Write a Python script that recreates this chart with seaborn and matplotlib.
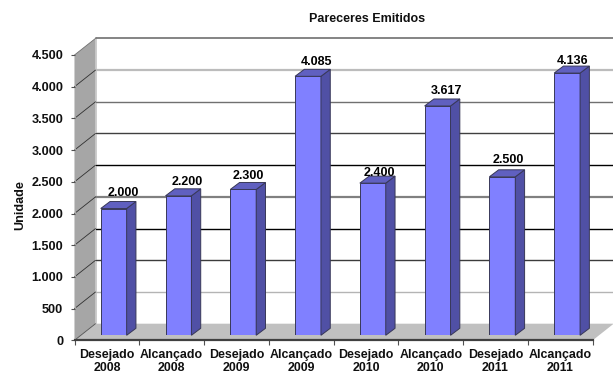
import pandas as pd
import matplotlib
matplotlib.use("Agg")
import matplotlib.pyplot as plt
from matplotlib.patches import Polygon
from matplotlib.lines import Line2D
from matplotlib.transforms import IdentityTransform
import seaborn as sns

# data
categories = ["Desejado\n2008", "Alcançado\n2008", "Desejado\n2009", "Alcançado\n2009",
              "Desejado\n2010", "Alcançado\n2010", "Desejado\n2011", "Alcançado\n2011"]
values = [2000, 2200, 2300, 4085, 2400, 3617, 2500, 4136]
y_ticks = [0, 500, 1000, 1500, 2000, 2500, 3000, 3500, 4000, 4500]
y_labels = ["0", "500", "1.000", "1.500", "2.000", "2.500", "3.000", "3.500", "4.000", "4.500"]

# gridlines look different from each other in the original (bad downscale)
grid_styles = {500: ("#b4b4b4", 1.0), 1000: ("#3c3c3c", 1.0), 1500: ("#000000", 1.0),
               2000: ("#808080", 1.6), 2500: ("#000000", 1.0), 3000: ("#404040", 1.0),
               3500: ("#707070", 1.0), 4000: ("#bcbcbc", 1.6)}

# labels were moved by hand in the original, offsets in pixels
label_dx = [5, 4, 0, 4, 2, 4, 1, 1]
label_dy = [3, 1, 0, 1, -3, 2, 4, -1]

sns.set_theme(style="white")
plt.rcParams["font.family"] = ["Liberation Sans", "DejaVu Sans"]
plt.rcParams["font.weight"] = "bold"

W, H = 613, 374
fig = plt.figure(figsize=(W / 100, H / 100), dpi=100)


def place(left, bottom_y, width, height):
    return [left / W, (H - bottom_y) / H, width / W, height / H]


# front plane of the fake 3D box, carries the ticks
ax = fig.add_axes(place(74.5, 340.3, 518.2, 285.3))
ax.set_xlim(-0.5, 7.5)
ax.set_ylim(0, 4500)
ax.patch.set_visible(False)

# bars stand a bit inside the box
bar_ax = fig.add_axes(place(81.3, 335.3, 518.2, 285.3))
df = pd.DataFrame({"categoria": categories, "valor": values})
sns.barplot(data=df, x="categoria", y="valor", ax=bar_ax, color="#8080FF", saturation=1,
            width=0.4, edgecolor="#383858", linewidth=0.7, order=categories)
bar_ax.set_xlim(-0.5, 7.5)
bar_ax.set_ylim(0, 4500)
bar_ax.patch.set_visible(False)
bar_ax.axis("off")

DX, DY = 21, 16.6  # box depth, pixels
BX, BY = 9.3, 7    # bar depth, pixels
pix = IdentityTransform()


def to_pix(a, x, y):
    return a.transData.transform((x, y))


# walls and floor
x0, y0 = to_pix(ax, -0.5, 0)
x1, y1 = to_pix(ax, 7.5, 0)
_, ytop = to_pix(ax, -0.5, 4500)
fig.add_artist(Polygon([(x0, y0), (x0 + DX, y0 + DY), (x0 + DX, ytop + DY), (x0, ytop)],
                       closed=True, facecolor="#a6a6a6", edgecolor="none", transform=pix, zorder=0))
fig.add_artist(Polygon([(x0, y0), (x1, y1), (x1 + DX, y1 + DY), (x0 + DX, y0 + DY)],
                       closed=True, facecolor="#c0c0c0", edgecolor="none", transform=pix, zorder=0))
fig.add_artist(Line2D([x0 + DX, x0 + DX], [y0 + DY, ytop + DY], color="#c4c4c4", lw=1.2, transform=pix, zorder=0))
fig.add_artist(Line2D([x0 + DX, x1 + DX], [ytop + DY, ytop + DY], color="#707070", lw=1.2, transform=pix, zorder=0))
fig.add_artist(Line2D([x0, x0 + DX], [ytop, ytop + DY], color="#707070", lw=0.6, transform=pix, zorder=0))
fig.add_artist(Line2D([x0, x0 + DX], [y0, y0 + DY], color="#505050", lw=0.6, transform=pix, zorder=0))

for v, (col, lw) in grid_styles.items():
    _, yv = to_pix(ax, -0.5, v)
    fig.add_artist(Line2D([x0 + DX, x1 + DX], [yv + DY, yv + DY], color=col, lw=lw, transform=pix, zorder=0))
    fig.add_artist(Line2D([x0, x0 + DX], [yv, yv + DY], color="#303030", lw=0.6, transform=pix, zorder=0))

# side and top faces, labels
for patch, val, dx, dy in zip(bar_ax.patches, values, label_dx, label_dy):
    (bx0, by0), (bx1, by1) = bar_ax.transData.transform(patch.get_bbox().get_points())
    bar_ax.add_patch(Polygon([(bx1, by0), (bx1 + BX, by0 + BY), (bx1 + BX, by1 + BY), (bx1, by1)],
                             closed=True, facecolor="#5050A5", edgecolor="#383858", lw=0.7, transform=pix, clip_on=False))
    bar_ax.add_patch(Polygon([(bx0, by1), (bx1, by1), (bx1 + BX, by1 + BY), (bx0 + BX, by1 + BY)],
                             closed=True, facecolor="#6060C0", edgecolor="#383858", lw=0.7, transform=pix, clip_on=False))
    label = f"{val:,}".replace(",", ".")
    bar_ax.annotate(label, xy=(patch.get_x() + patch.get_width() / 2, val),
                    xytext=((4.7 + dx) * 0.72, (13 + dy) * 0.72),
                    textcoords="offset points", ha="center", va="center", fontsize=9,
                    fontweight="bold", color="black", annotation_clip=False)

# axes furniture
for side in ["top", "right"]:
    ax.spines[side].set_visible(False)
ax.spines["left"].set_visible(False)
ax.spines["bottom"].set_color("#404040")
ax.spines["bottom"].set_linewidth(1.6)
fig.add_artist(Line2D([x0, x0], [y0, ytop], color="#a6a6a6", lw=0.8, transform=pix, zorder=0))

ax.set_yticks(y_ticks)
ax.set_yticklabels(y_labels, fontsize=9.1, fontweight="bold", color="#101010")
ax.tick_params(axis="y", left=True, length=3, width=0.8, color="#505050", pad=5)

ax.set_xticks([i - 0.5 for i in range(9)])
ax.set_xticklabels([""] * 9)
ax.set_xticks(range(8), minor=True)
ax.set_xticklabels(categories, minor=True, fontsize=8.9, fontweight="bold", color="#101010", linespacing=1.12)
ax.tick_params(axis="x", which="major", bottom=True, length=3.5, width=0.8, color="#505050")
ax.tick_params(axis="x", which="minor", bottom=False, length=0, pad=6)

fig.text(367 / W, 1 - 19 / H, "Pareceres Emitidos", ha="center", va="center",
         fontsize=9, fontweight="bold", color="#101010")
fig.text(20.5 / W, 1 - 205 / H, "Unidade", ha="center", va="center", rotation=90,
         fontsize=9.1, fontweight="bold", color="#101010")

fig.savefig("out.png", dpi=100, facecolor="white")
